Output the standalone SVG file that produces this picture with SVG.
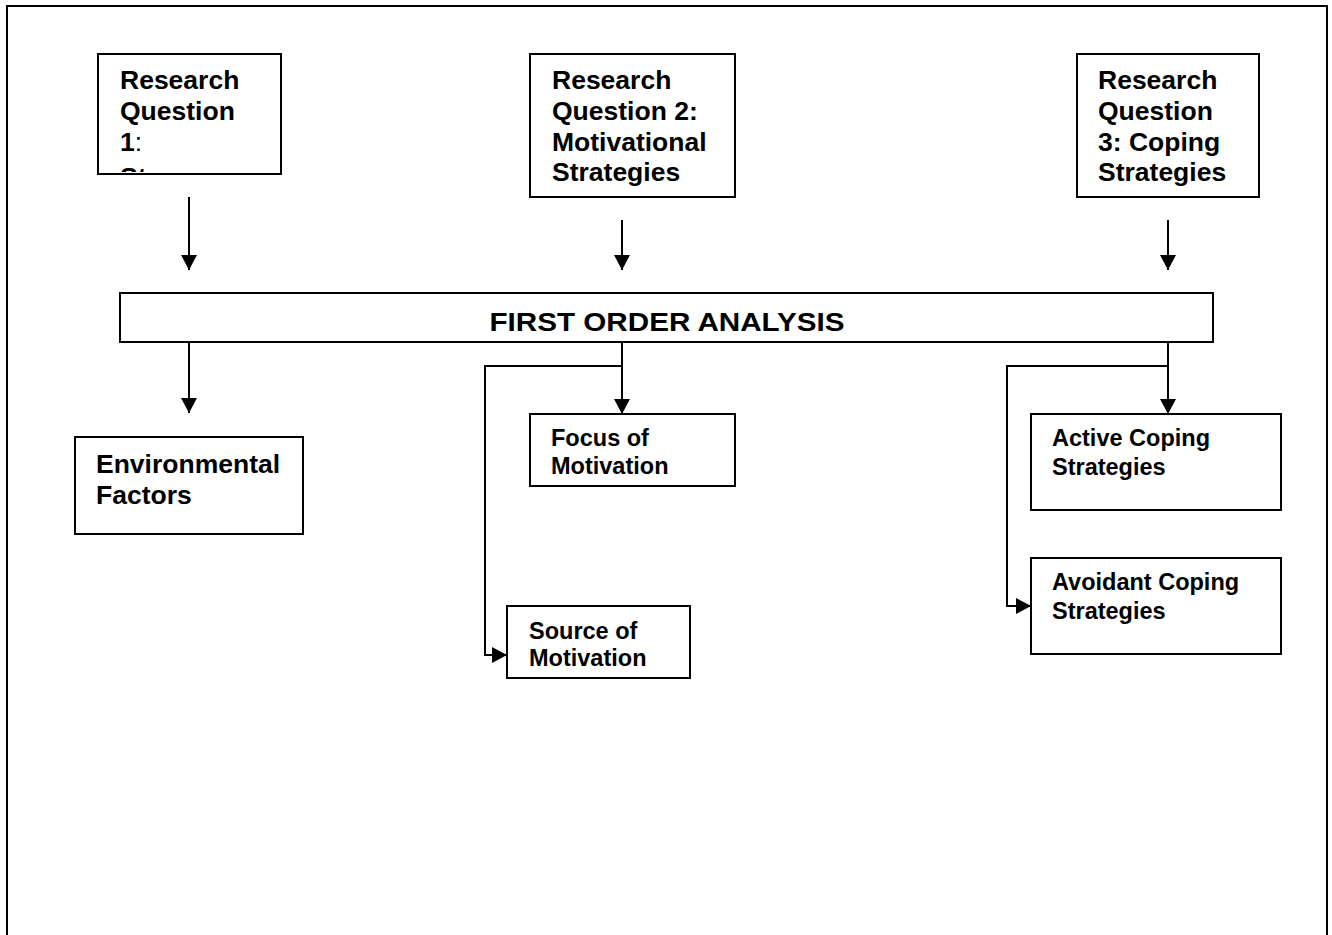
<svg xmlns="http://www.w3.org/2000/svg" width="1332" height="935" viewBox="0 0 1332 935">
<style>
.box{fill:#fff;stroke:#000;stroke-width:2}
.t{font-family:"Liberation Sans",Arial,sans-serif;font-weight:bold;fill:#000}
.big{font-size:26.5px}
.sm{font-size:23.5px}
.ln{fill:none;stroke:#000;stroke-width:2}
</style>
<defs>
<marker id="ah" viewBox="0 0 15 16" refX="15" refY="8" markerWidth="15" markerHeight="16" markerUnits="userSpaceOnUse" orient="auto">
<path d="M0,0 L15,8 L0,16 Z" fill="#000"/>
</marker>
<clipPath id="c1"><rect x="99" y="55" width="181" height="117"/></clipPath>
</defs>
<rect x="0" y="0" width="1332" height="935" fill="#fff"/>
<path d="M7,940 L7,6 L1327,6 L1327,940" fill="none" stroke="#000" stroke-width="2"/>
<g id="rq1">
<rect class="box" x="98" y="54" width="183" height="120"/>
<g clip-path="url(#c1)">
<text class="t big" x="120" y="89">Research</text>
<text class="t big" x="120" y="120">Question</text>
<text class="t big" x="120" y="151">1<tspan font-weight="normal">:</tspan></text>
<text class="t big" x="120" y="186">St</text>
</g>
</g>
<g id="rq2">
<rect class="box" x="530" y="54" width="205" height="143"/>
<text class="t big" x="552" y="89">Research</text>
<text class="t big" x="552" y="120">Question 2:</text>
<text class="t big" x="552" y="151">Motivational</text>
<text class="t big" x="552" y="181">Strategies</text>
</g>
<g id="rq3">
<rect class="box" x="1077" y="54" width="182" height="143"/>
<text class="t big" x="1098" y="89">Research</text>
<text class="t big" x="1098" y="120">Question</text>
<text class="t big" x="1098" y="151">3: Coping</text>
<text class="t big" x="1098" y="181">Strategies</text>
</g>
<g id="foa">
<rect class="box" x="120" y="293" width="1093" height="49"/>
<text class="t" font-size="26" x="667" y="331" text-anchor="middle" textLength="355" lengthAdjust="spacingAndGlyphs">FIRST ORDER ANALYSIS</text>
</g>
<g id="env">
<rect class="box" x="75" y="437" width="228" height="97"/>
<text class="t big" x="96" y="473">Environmental</text>
<text class="t big" x="96" y="504">Factors</text>
</g>
<g id="focus">
<rect class="box" x="530" y="414" width="205" height="72"/>
<text class="t sm" x="551" y="446">Focus of</text>
<text class="t sm" x="551" y="474">Motivation</text>
</g>
<g id="source">
<rect class="box" x="507" y="606" width="183" height="72"/>
<text class="t sm" x="529" y="639">Source of</text>
<text class="t sm" x="529" y="666">Motivation</text>
</g>
<g id="active">
<rect class="box" x="1031" y="414" width="250" height="96"/>
<text class="t sm" x="1052" y="446">Active Coping</text>
<text class="t sm" x="1052" y="475">Strategies</text>
</g>
<g id="avoidant">
<rect class="box" x="1031" y="558" width="250" height="96"/>
<text class="t sm" x="1052" y="590">Avoidant Coping</text>
<text class="t sm" x="1052" y="619">Strategies</text>
</g>
<g id="connectors">
<line class="ln" x1="189" y1="197" x2="189" y2="270" marker-end="url(#ah)"/>
<line class="ln" x1="622" y1="220" x2="622" y2="270" marker-end="url(#ah)"/>
<line class="ln" x1="1168" y1="220" x2="1168" y2="270" marker-end="url(#ah)"/>
<line class="ln" x1="189" y1="342" x2="189" y2="413" marker-end="url(#ah)"/>
<line class="ln" x1="622" y1="342" x2="622" y2="414" marker-end="url(#ah)"/>
<polyline class="ln" points="622,366 485,366 485,655 507,655" marker-end="url(#ah)"/>
<line class="ln" x1="1168" y1="342" x2="1168" y2="414" marker-end="url(#ah)"/>
<polyline class="ln" points="1168,366 1007,366 1007,606 1031,606" marker-end="url(#ah)"/>
</g>
</svg>
